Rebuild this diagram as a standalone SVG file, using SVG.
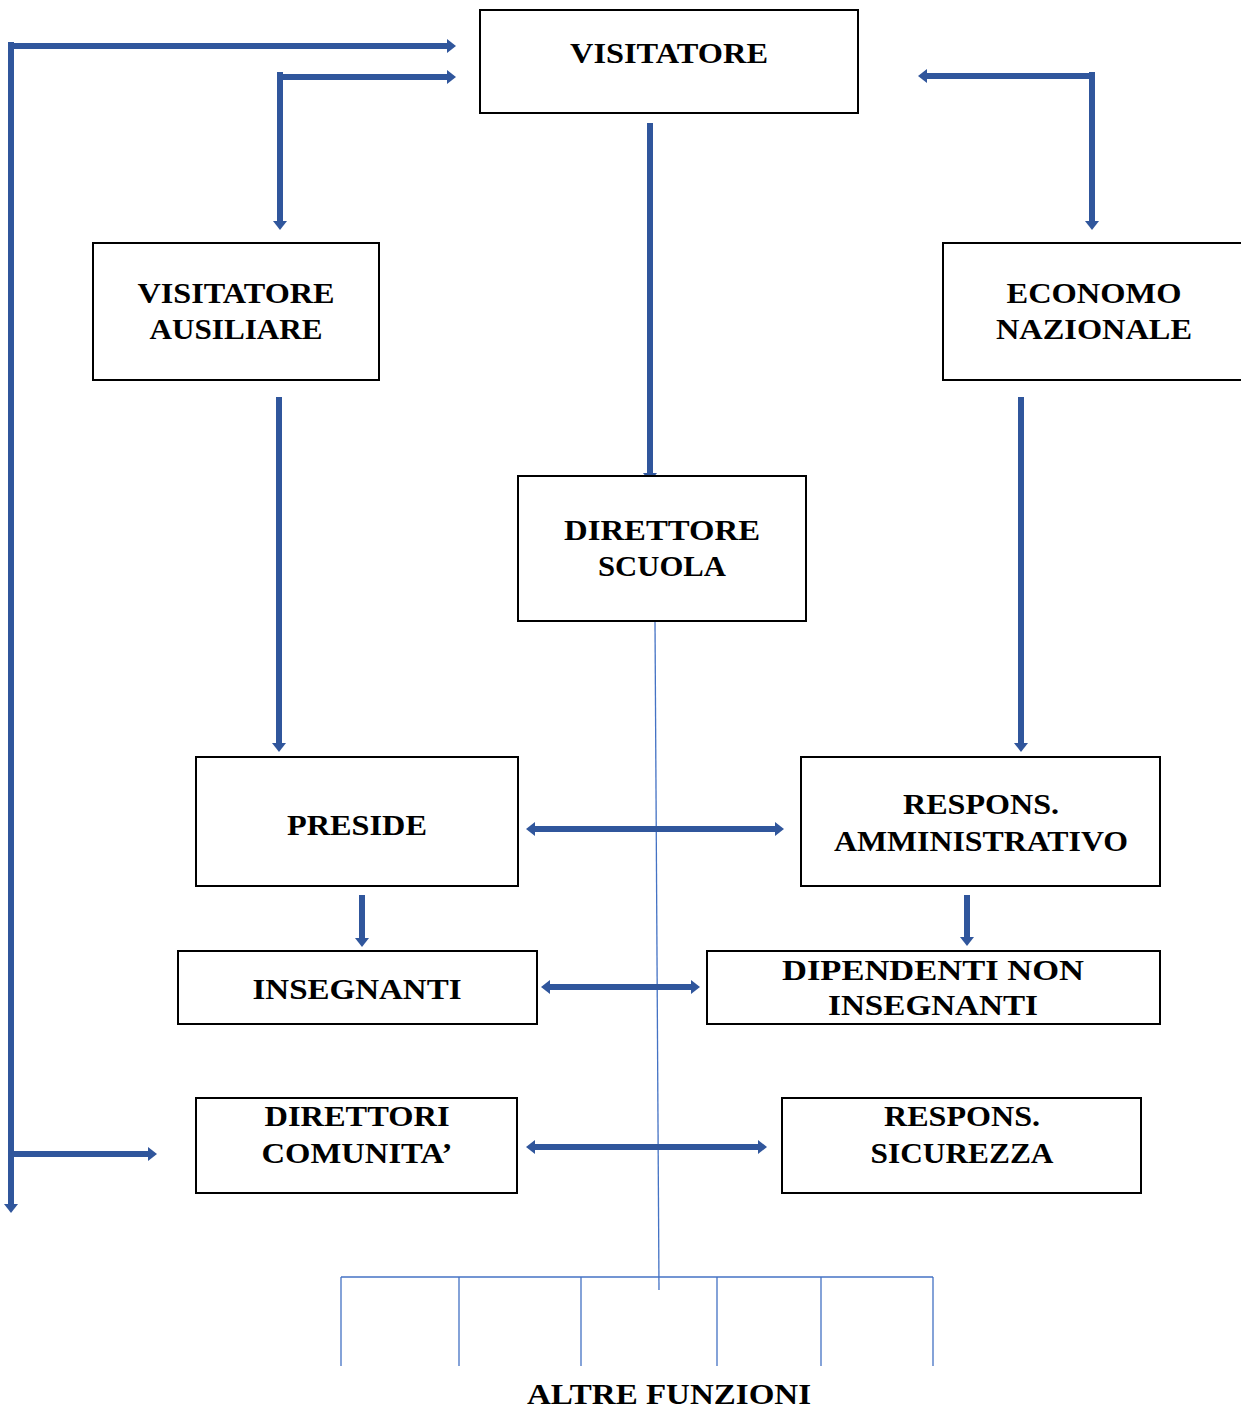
<svg xmlns="http://www.w3.org/2000/svg" width="1241" height="1411" viewBox="0 0 1241 1411">
<style>
.box{fill:#fff;stroke:#000;stroke-width:2}
.t{font-family:"Liberation Serif","Times New Roman",serif;font-weight:bold;font-size:30px;fill:#000;text-anchor:middle}
.a{fill:none;stroke:#30569C;stroke-width:6}
.ai{fill:none;stroke:#4A70B8;stroke-width:2}
.thin{fill:none;stroke:#4472C4;stroke-width:1.3}
</style>
<defs>
<marker id="ah" markerUnits="userSpaceOnUse" markerWidth="9" markerHeight="14" refX="0" refY="7" orient="auto-start-reverse">
<path d="M0,0 L9,7 L0,14 z" fill="#30569C"/>
</marker>
</defs>
<rect width="1241" height="1411" fill="#fff"/>

<g id="thin-tree">
<path class="thin" d="M655,622 L659,1290"/>
<path class="thin" d="M341,1277 H933"/>
<path class="thin" d="M341,1277 V1366 M459,1277 V1366 M581,1277 V1366 M717,1277 V1366 M821,1277 V1366 M933,1277 V1366"/>
</g>

<g id="connectors">
<path class="a" d="M11,42 V1204" marker-end="url(#ah)"/>
<path class="a" d="M8,46 H447" marker-end="url(#ah)"/>
<path class="a" d="M11,1154 H148" marker-end="url(#ah)"/>
<path class="a" d="M280,72 V221" marker-end="url(#ah)"/>
<path class="a" d="M277,77 H447" marker-end="url(#ah)"/>
<path class="a" d="M650,123 V473" marker-end="url(#ah)"/>
<path class="a" d="M1095,76 H927" marker-end="url(#ah)"/>
<path class="a" d="M1092,72 V221" marker-end="url(#ah)"/>
<path class="a" d="M279,397 V743" marker-end="url(#ah)"/>
<path class="a" d="M1021,397 V743" marker-end="url(#ah)"/>
<path class="a" d="M535,829 H775" marker-start="url(#ah)" marker-end="url(#ah)"/>
<path class="a" d="M362,895 V938" marker-end="url(#ah)"/>
<path class="a" d="M967,895 V937" marker-end="url(#ah)"/>
<path class="a" d="M550,987 H691" marker-start="url(#ah)" marker-end="url(#ah)"/>
<path class="a" d="M535,1147 H758" marker-start="url(#ah)" marker-end="url(#ah)"/>
</g>

<g id="n-visitatore"><rect class="box" x="480" y="10" width="378" height="103"/><text class="t" x="669" y="63" textLength="198" lengthAdjust="spacingAndGlyphs">VISITATORE</text></g>
<g id="n-visitatore-ausiliare"><rect class="box" x="93" y="243" width="286" height="137"/><text class="t" x="236" y="303" textLength="197" lengthAdjust="spacingAndGlyphs">VISITATORE</text><text class="t" x="236" y="339" textLength="173" lengthAdjust="spacingAndGlyphs">AUSILIARE</text></g>
<g id="n-economo"><rect class="box" x="943" y="243" width="304" height="137"/><text class="t" x="1094" y="303" textLength="175" lengthAdjust="spacingAndGlyphs">ECONOMO</text><text class="t" x="1094" y="339" textLength="196" lengthAdjust="spacingAndGlyphs">NAZIONALE</text></g>
<g id="n-direttore-scuola"><rect class="box" x="518" y="476" width="288" height="145"/><text class="t" x="662" y="540" textLength="196" lengthAdjust="spacingAndGlyphs">DIRETTORE</text><text class="t" x="662" y="576" textLength="128" lengthAdjust="spacingAndGlyphs">SCUOLA</text></g>
<g id="n-preside"><rect class="box" x="196" y="757" width="322" height="129"/><text class="t" x="357" y="835" textLength="140" lengthAdjust="spacingAndGlyphs">PRESIDE</text></g>
<g id="n-resp-amm"><rect class="box" x="801" y="757" width="359" height="129"/><text class="t" x="981" y="814" textLength="156" lengthAdjust="spacingAndGlyphs">RESPONS.</text><text class="t" x="981" y="851" textLength="294" lengthAdjust="spacingAndGlyphs">AMMINISTRATIVO</text></g>
<g id="n-insegnanti"><rect class="box" x="178" y="951" width="359" height="73"/><text class="t" x="357" y="999" textLength="209" lengthAdjust="spacingAndGlyphs">INSEGNANTI</text></g>
<g id="n-dipendenti"><rect class="box" x="707" y="951" width="453" height="73"/><text class="t" x="933" y="980" textLength="302" lengthAdjust="spacingAndGlyphs">DIPENDENTI NON</text><text class="t" x="933" y="1015" textLength="210" lengthAdjust="spacingAndGlyphs">INSEGNANTI</text></g>
<g id="n-direttori-comunita"><rect class="box" x="196" y="1098" width="321" height="95"/><text class="t" x="357" y="1126" textLength="185" lengthAdjust="spacingAndGlyphs">DIRETTORI</text><text class="t" x="357" y="1163" textLength="191" lengthAdjust="spacingAndGlyphs">COMUNITA’</text></g>
<g id="n-resp-sic"><rect class="box" x="782" y="1098" width="359" height="95"/><text class="t" x="962" y="1126" textLength="156" lengthAdjust="spacingAndGlyphs">RESPONS.</text><text class="t" x="962" y="1163" textLength="183" lengthAdjust="spacingAndGlyphs">SICUREZZA</text></g>
<g id="n-altre"><text class="t" x="669" y="1404" textLength="284" lengthAdjust="spacingAndGlyphs">ALTRE FUNZIONI</text></g>
</svg>
